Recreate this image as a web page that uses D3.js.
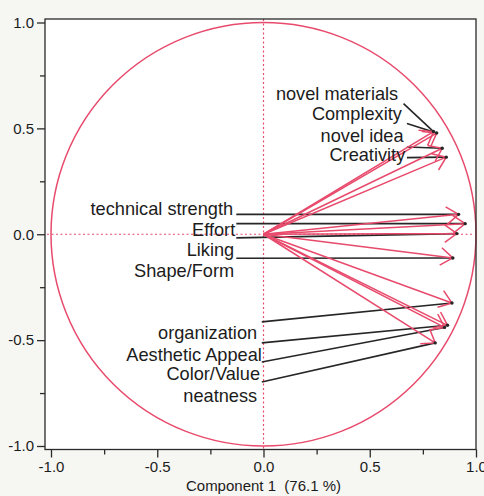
<!DOCTYPE html>
<html>
<head>
<meta charset="utf-8">
<script src="https://cdn.jsdelivr.net/npm/d3@7"></script>
<style>
  html, body { margin: 0; padding: 0; background: #f6f6f3; }
  svg { display: block; }
  text { font-family: "Liberation Sans", Arial, Helvetica, sans-serif; fill: #1c1c1c; white-space: pre; }
</style>
</head>
<body>
<script>
// ---- data ----
const variables = ["novel materials", "Complexity", "novel idea", "Creativity",
  "technical strength", "Effort", "Liking", "Shape/Form",
  "organization", "Aesthetic Appeal", "Color/Value", "neatness"];
const component1 = [0.800, 0.815, 0.841, 0.860, 0.918, 0.949, 0.910, 0.891, 0.887, 0.866, 0.852, 0.808];
const component2 = [0.485, 0.478, 0.406, 0.364, 0.094, 0.050, 0.003, -0.112, -0.325, -0.430, -0.440, -0.513];
const majorTicks = [-1.0, -0.5, 0.0, 0.5, 1.0];
const minorTicks = [-0.75, -0.25, 0.25, 0.75];
const xTitle = "Component 1  (76.1 %)";

// ---- label layout (data units) ----
const labelX = [0.634, 0.651, 0.659, 0.667, -0.143, -0.133, -0.138, -0.138, -0.030, -0.008, -0.016, -0.030];
const labelY = [0.633, 0.539, 0.436, 0.345, 0.090, -0.008, -0.103, -0.203, -0.493, -0.600, -0.690, -0.792];
const leadX  = [0.659, 0.675, 0.675, 0.675, -0.128, -0.128, -0.128, -0.128, -0.008, -0.008, -0.008, -0.008];
const leadY  = [0.617, 0.523, 0.412, 0.362, 0.094, 0.050, -0.017, -0.113, -0.414, -0.513, -0.603, -0.698];

const W = 484, H = 496;
const red = "#e84a6c";
const frame = {left: 45, right: 476, top: 19, bottom: 449.5};

const x = d3.scaleLinear().domain([-1, 1]).range([51, 476]);
const y = d3.scaleLinear().domain([-1, 1]).range([446, 22.5]);

const svg = d3.select("body").append("svg").attr("width", W).attr("height", H);

svg.append("rect").attr("width", W).attr("height", H).attr("fill", "#f6f6f3");

// plot area
svg.append("rect")
  .attr("x", frame.left).attr("y", frame.top)
  .attr("width", frame.right - frame.left).attr("height", frame.bottom - frame.top)
  .attr("fill", "#ffffff");

const plot = svg.append("g");

// dotted reference lines
plot.append("line")
  .attr("x1", x(0)).attr("x2", x(0)).attr("y1", frame.top).attr("y2", frame.bottom)
  .attr("stroke", red).attr("stroke-width", 1.2).attr("stroke-dasharray", "2,2.5");
plot.append("line")
  .attr("x1", frame.left + 2).attr("x2", frame.right - 4).attr("y1", y(0)).attr("y2", y(0))
  .attr("stroke", red).attr("stroke-width", 1.2).attr("stroke-dasharray", "2,2.5");

// unit circle
plot.append("ellipse")
  .attr("cx", x(0)).attr("cy", y(0))
  .attr("rx", x(1) - x(0)).attr("ry", y(-1) - y(0))
  .attr("fill", "none").attr("stroke", red).attr("stroke-width", 1.5);

const idx = d3.range(variables.length);

// leader lines
plot.selectAll("line.leader").data(idx).join("line")
  .attr("class", "leader")
  .attr("x1", i => x(leadX[i])).attr("y1", i => y(leadY[i]))
  .attr("x2", i => x(component1[i])).attr("y2", i => y(component2[i]))
  .attr("stroke", "#262626").attr("stroke-width", 1.6);

// red arrows
const headLen = 15, headAng = 36 * Math.PI / 180;
function arrowPath(i) {
  const x0 = x(0), y0 = y(0), x1 = x(component1[i]), y1 = y(component2[i]);
  const a = Math.atan2(y0 - y1, x0 - x1);
  const p = d3.path();
  p.moveTo(x0, y0); p.lineTo(x1, y1);
  p.moveTo(x1 + headLen * Math.cos(a + headAng), y1 + headLen * Math.sin(a + headAng));
  p.lineTo(x1, y1);
  p.lineTo(x1 + headLen * Math.cos(a - headAng), y1 + headLen * Math.sin(a - headAng));
  return p.toString();
}
plot.selectAll("path.arrow").data(idx).join("path")
  .attr("class", "arrow")
  .attr("d", arrowPath)
  .attr("fill", "none").attr("stroke", red).attr("stroke-width", 1.5)
  .attr("stroke-linejoin", "miter");

// tip dots
plot.selectAll("circle.tip").data(idx).join("circle")
  .attr("class", "tip")
  .attr("cx", i => x(component1[i])).attr("cy", i => y(component2[i]))
  .attr("r", 1.7).attr("fill", "#262626");

// labels
plot.selectAll("text.lab").data(idx).join("text")
  .attr("class", "lab")
  .attr("x", i => x(labelX[i])).attr("y", i => y(labelY[i]))
  .attr("text-anchor", "end")
  .attr("font-size", 18.2)
  .text(i => variables[i]);

// frame
svg.append("rect")
  .attr("x", frame.left).attr("y", frame.top)
  .attr("width", frame.right - frame.left).attr("height", frame.bottom - frame.top)
  .attr("fill", "none").attr("stroke", "#2a2a2a").attr("stroke-width", 1.3);

// axes
const fmt = d => d.toFixed(1);
const yMajor = svg.append("g").attr("transform", `translate(${frame.left},0)`)
  .call(d3.axisLeft(y).tickValues(majorTicks).tickSize(8).tickPadding(3).tickFormat(fmt));
const yMinor = svg.append("g").attr("transform", `translate(${frame.left},0)`)
  .call(d3.axisLeft(y).tickValues(minorTicks).tickSize(5).tickFormat(""));
const xMajor = svg.append("g").attr("transform", `translate(0,${frame.bottom})`)
  .call(d3.axisBottom(x).tickValues(majorTicks).tickSize(8).tickPadding(4).tickFormat(fmt));
const xMinor = svg.append("g").attr("transform", `translate(0,${frame.bottom})`)
  .call(d3.axisBottom(x).tickValues(minorTicks).tickSize(5).tickFormat(""));

[yMajor, yMinor, xMajor, xMinor].forEach(g => {
  g.select(".domain").remove();
  g.selectAll(".tick line").attr("stroke", "#2a2a2a").attr("stroke-width", 1.3);
  g.selectAll(".tick text")
    .attr("font-size", 15)
    .attr("fill", "#1c1c1c")
    .style("font-family", '"Liberation Sans", Arial, Helvetica, sans-serif');
});

svg.append("text")
  .attr("x", x(0)).attr("y", 491)
  .attr("text-anchor", "middle")
  .attr("font-size", 15)
  .attr("xml:space", "preserve")
  .text(xTitle);
</script>
</body>
</html>
